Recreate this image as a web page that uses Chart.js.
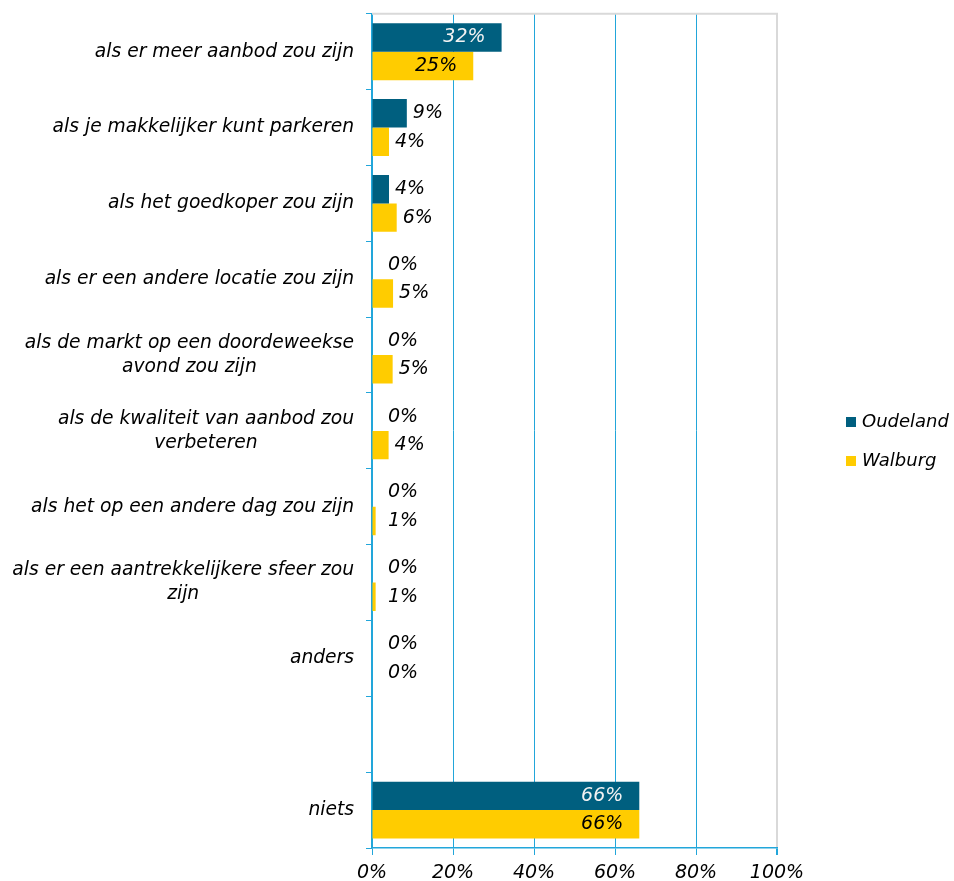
<!DOCTYPE html>
<html>
<head>
<meta charset="utf-8">
<script src="https://cdn.jsdelivr.net/npm/chart.js@4.4.1/dist/chart.umd.min.js"></script>
<style>
  html, body { margin: 0; padding: 0; background: #fff; }
  #wrap { width: 954px; height: 881px; }
</style>
</head>
<body>
<div id="wrap"><canvas id="myChart" width="954" height="881"></canvas></div>
<script>
let categories = [
  ['als er meer aanbod zou zijn'],
  ['als je makkelijker kunt parkeren'],
  ['als het goedkoper zou zijn'],
  ['als er een andere locatie zou zijn'],
  ['als de markt op een doordeweekse', 'avond zou zijn'],
  ['als de kwaliteit van aanbod zou', 'verbeteren'],
  ['als het op een andere dag zou zijn'],
  ['als er een aantrekkelijkere sfeer zou', 'zijn'],
  ['anders'],
  [''],
  ['niets']
];
let seriesNames = ['Oudeland', 'Walburg'];
let oudeland = [32, 8.6, 4.2, 0, 0, 0, 0, 0, 0, null, 66];
let walburg = [25, 4.2, 6.1, 5.2, 5.1, 4.1, 0.9, 0.9, 0, null, 66];
let xTicks = [0, 20, 40, 60, 80, 100];

let colors = ['#005F7F', '#FFCC00'];
let gridBlue = '#22A6DA';
let borderGray = '#D9D9D9';
let fontName = '"DejaVu Sans", Verdana, sans-serif';

// draws category labels, value labels and the legend
let extras = {
  id: 'extras',
  afterDraw(chart) {
    let ctx = chart.ctx;
    let area = chart.chartArea;
    let yScale = chart.scales.y;
    ctx.save();

    // top border of the plot area
    ctx.strokeStyle = borderGray;
    ctx.lineWidth = 2;
    ctx.beginPath();
    ctx.moveTo(area.left, area.top);
    ctx.lineTo(area.right + 1, area.top);
    ctx.stroke();

    // category labels, lines centred, block right aligned
    ctx.font = 'italic 18.7px ' + fontName;
    ctx.fillStyle = '#000';
    ctx.textBaseline = 'middle';
    ctx.textAlign = 'center';
    let lineH = 24;
    for (let i = 0; i < categories.length; i++) {
      let lines = categories[i];
      let maxW = 0;
      for (let l of lines) maxW = Math.max(maxW, ctx.measureText(l).width);
      let cx = 354 - maxW / 2;
      let cy = yScale.getPixelForValue(i);
      let y0 = cy - (lines.length - 1) * lineH / 2;
      for (let k = 0; k < lines.length; k++) {
        ctx.fillText(lines[k], cx, y0 + k * lineH);
      }
    }

    // value labels
    ctx.font = 'italic 19px ' + fontName;
    for (let d = 0; d < chart.data.datasets.length; d++) {
      let meta = chart.getDatasetMeta(d);
      let vals = chart.data.datasets[d].data;
      for (let j = 0; j < vals.length; j++) {
        if (vals[j] === null) continue;
        let bar = meta.data[j];
        let txt = Math.round(vals[j]) + '%';
        if (vals[j] > 20) {
          ctx.textAlign = 'right';
          ctx.fillStyle = d === 0 ? '#F2F2F2' : '#000';
          ctx.fillText(txt, bar.x - 16, bar.y);
        } else {
          ctx.textAlign = 'left';
          ctx.fillStyle = '#000';
          ctx.fillText(txt, Math.max(bar.x + 6, area.left + 16), bar.y);
        }
      }
    }

    // legend
    ctx.font = 'italic 18px ' + fontName;
    ctx.textAlign = 'left';
    let legY = [422, 461];
    for (let s = 0; s < seriesNames.length; s++) {
      ctx.fillStyle = colors[s];
      ctx.fillRect(846, legY[s] - 5, 10, 10);
      ctx.fillStyle = '#000';
      ctx.fillText(seriesNames[s], 862, legY[s]);
    }
    ctx.restore();
  }
};

let myChart = new Chart(document.getElementById('myChart').getContext('2d'), {
  type: 'bar',
  data: {
    labels: categories,
    datasets: [{
      label: seriesNames[0],
      data: oudeland,
      backgroundColor: colors[0],
      categoryPercentage: 0.75,
      barPercentage: 1
    }, {
      label: seriesNames[1],
      data: walburg,
      backgroundColor: colors[1],
      categoryPercentage: 0.75,
      barPercentage: 1
    }]
  },
  options: {
    indexAxis: 'y',
    responsive: false,
    animation: false,
    layout: { padding: { top: 12, right: 177, left: 0, bottom: 0 } },
    plugins: {
      legend: { display: false },
      tooltip: { enabled: false }
    },
    scales: {
      x: {
        min: 0,
        max: 100,
        afterBuildTicks: function (s) { s.ticks = xTicks.map(v => ({ value: v })); },
        afterFit: function (s) { s.height = 33; },
        grid: {
          color: c => (c.tick && c.tick.value === 100 ? borderGray : gridBlue),
          lineWidth: c => (c.tick && c.tick.value === 100 ? 2 : 1),
          tickColor: gridBlue,
          tickLength: 7
        },
        border: { color: gridBlue, width: 1.5 },
        ticks: {
          padding: 7,
          color: '#000',
          font: { family: fontName, size: 19, style: 'italic' },
          callback: v => v + '%',
          maxRotation: 0
        }
      },
      y: {
        afterFit: function (s) { s.width = 372; },
        grid: {
          offset: true,
          color: 'transparent',
          tickColor: gridBlue,
          tickLength: 6
        },
        border: { color: gridBlue, width: 1.5 },
        ticks: { color: 'transparent', font: { size: 18 } }
      }
    }
  },
  plugins: [extras]
});
</script>
</body>
</html>
